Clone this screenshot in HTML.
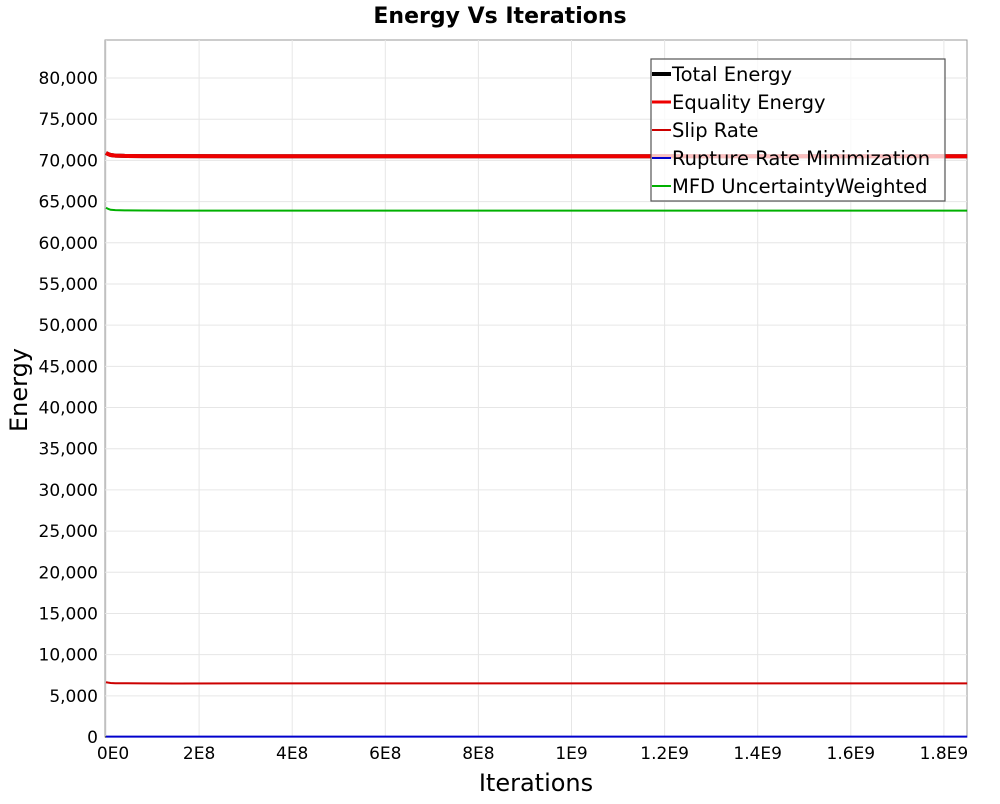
<!DOCTYPE html>
<html><head><meta charset="utf-8"><style>
body{margin:0;background:#fff;font-family:"DejaVu Sans","Liberation Sans",sans-serif;}
text{font-family:"DejaVu Sans","Liberation Sans",sans-serif;}
</style></head><body>
<svg id="chart" width="1000" height="800" xmlns="http://www.w3.org/2000/svg">
<text x="500" y="23" text-anchor="middle" font-size="22" font-weight="bold">Energy Vs Iterations</text>
<rect x="105" y="40" width="862" height="697" fill="#fff" stroke="#999"/>
<g id="grid"></g><g id="yticks"></g><g id="xticks"></g><g id="series"></g>
<text x="536" y="791" text-anchor="middle" font-size="24">Iterations</text>
<text transform="translate(27,390) rotate(-90)" text-anchor="middle" font-size="24">Energy</text>
<g>
<rect x="651" y="59" width="294" height="142" fill="#fff" fill-opacity="0.75" stroke="#555" stroke-width="1.2"/>
<g id="legend-items"></g>
</g>
</svg>
<script>
const iterations=[0,5e6,1e7,2e7,4e7,8e7,1.5e8,3e8,6e8,1e9,1.5e9,1.85e9];
const totalEnergy=[70900,70750,70650,70580,70540,70520,70510,70500,70500,70500,70500,70500];
const equalityEnergy=[70900,70750,70650,70580,70540,70520,70510,70500,70500,70500,70500,70500];
const slipRate=[6650,6600,6560,6530,6520,6510,6500,6510,6510,6510,6510,6510];
const ruptureRate=[50,50,50,50,50,50,50,50,50,50,50,50];
const mfdWeighted=[64250,64100,64000,63960,63930,63910,63900,63900,63900,63900,63900,63900];
const yTicks=[0,5000,10000,15000,20000,25000,30000,35000,40000,45000,50000,55000,60000,65000,70000,75000,80000];
const xTicks=[0,2e8,4e8,6e8,8e8,1e9,1.2e9,1.4e9,1.6e9,1.8e9];
const xTickLabels=["0E0","2E8","4E8","6E8","8E8","1E9","1.2E9","1.4E9","1.6E9","1.8E9"];
const NS="http://www.w3.org/2000/svg";
const X=v=>106+v*(93.1/2e8);
const Y=v=>737-v*(659/80000);
function mk(t,a,p){const e=document.createElementNS(NS,t);for(const k in a)e.setAttribute(k,a[k]);p.appendChild(e);return e;}
const grid=document.getElementById('grid'),yt=document.getElementById('yticks'),xt=document.getElementById('xticks'),ser=document.getElementById('series');
yTicks.forEach(v=>{
 const l=mk('line',{x1:105,x2:967,y1:Y(v),y2:Y(v),stroke:'#e6e6e6'},grid);
 
 
 const t=mk('text',{x:98,y:Y(v)+6,'text-anchor':'end','font-size':17},yt);
 
 
 t.textContent=v.toLocaleString('en-US');
});
xTicks.forEach((v,i)=>{
 const l=mk('line',{x1:X(v),x2:X(v),y1:40,y2:737,stroke:'#e6e6e6'},grid);
 
 
 const t=mk('text',{x:i==0?X(v)+7:X(v),y:759,'text-anchor':'middle','font-size':17},xt);
 
 
 t.textContent=xTickLabels[i];
});
mk('line',{x1:105,x2:967,y1:737,y2:737,stroke:'#000','stroke-width':1},grid);
const defs=[
 ['rupture-rate-line',ruptureRate,'#0000cc',2,'Rupture Rate Minimization'],
 ['slip-rate-line',slipRate,'#cc0000',2,'Slip Rate'],
 ['mfd-line',mfdWeighted,'#00b000',2,'MFD UncertaintyWeighted'],
 ['total-energy-line',totalEnergy,'#000',4,'Total Energy'],
 ['equality-energy-line',equalityEnergy,'#ee0000',4,'Equality Energy']];
defs.forEach(d=>{
 const p=mk('polyline',{points:iterations.map((v,i)=>X(v)+','+Y(d[1][i])).join(' '),fill:'none',stroke:d[2],'stroke-width':d[3]},ser);
 
 
});
const leg=[['Total Energy','#000',4],['Equality Energy','#ee0000',3],['Slip Rate','#cc0000',2],['Rupture Rate Minimization','#0000cc',2],['MFD UncertaintyWeighted','#00b000',2]];
const li=document.getElementById('legend-items');
leg.forEach((e,i)=>{
 const y=74+i*28;
 const g=mk('g',{},li);
 
 
 mk('line',{x1:652,x2:671,y1:y,y2:y,stroke:e[1],'stroke-width':e[2]},g);
 const t=mk('text',{x:672,y:y+7,'font-size':19.5},g);
 t.textContent=e[0];
});
</script>
</body></html>
